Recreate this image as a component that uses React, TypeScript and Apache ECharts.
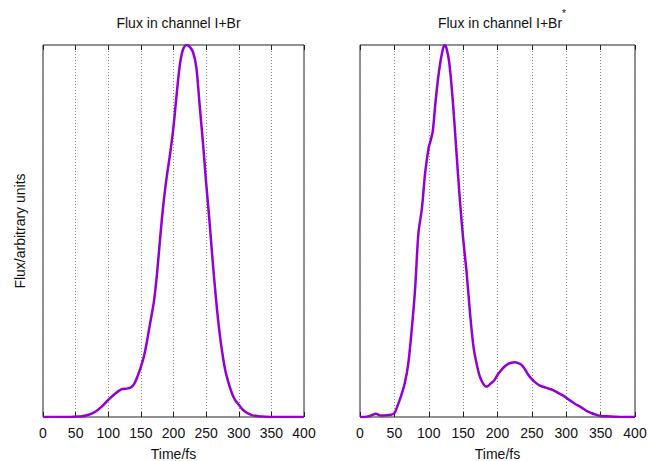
import React, { useEffect, useRef } from "react";
import * as echarts from "echarts";

// Left panel: flux in channel I+Br (time in fs, normalised flux)
const leftTimes = [0, 20, 40, 50, 60, 70, 80, 90, 100, 110, 120, 130, 135, 140, 145, 150, 155, 160, 165, 170, 175, 180, 185, 190, 195, 200, 205, 210, 215, 220, 225, 230, 235, 240, 245, 250, 255, 260, 265, 270, 275, 280, 285, 290, 295, 300, 305, 310, 315, 320, 330, 340, 350, 400];
const leftFlux = [0, 0, 0, 0.001, 0.002, 0.006, 0.014, 0.028, 0.046, 0.062, 0.074, 0.077, 0.08, 0.09, 0.11, 0.135, 0.165, 0.21, 0.26, 0.31, 0.39, 0.49, 0.58, 0.65, 0.71, 0.78, 0.87, 0.95, 0.99, 1.0, 0.995, 0.98, 0.94, 0.84, 0.74, 0.63, 0.53, 0.42, 0.32, 0.235, 0.17, 0.12, 0.088, 0.062, 0.044, 0.033, 0.022, 0.014, 0.009, 0.005, 0.002, 0.001, 0, 0];

// Right panel: flux in channel I+Br*
const rightTimes = [0, 5, 10, 15, 20, 23, 26, 30, 35, 40, 45, 50, 55, 60, 65, 70, 75, 80, 85, 90, 95, 100, 103, 106, 110, 115, 120, 123, 126, 130, 135, 140, 145, 150, 155, 160, 165, 170, 175, 180, 183, 186, 190, 195, 200, 205, 210, 215, 220, 225, 230, 235, 240, 245, 250, 255, 260, 265, 270, 275, 280, 285, 290, 295, 300, 305, 310, 315, 320, 325, 330, 335, 340, 345, 350, 360, 370, 380, 400];
const rightFlux = [0, 0, 0.001, 0.003, 0.007, 0.009, 0.007, 0.004, 0.004, 0.005, 0.006, 0.01, 0.032, 0.058, 0.09, 0.14, 0.23, 0.34, 0.495, 0.56, 0.66, 0.725, 0.745, 0.77, 0.85, 0.93, 0.985, 1.0, 0.99, 0.95, 0.85, 0.72, 0.59, 0.48, 0.39, 0.28, 0.19, 0.14, 0.105, 0.087, 0.082, 0.083, 0.09, 0.098, 0.113, 0.125, 0.135, 0.142, 0.146, 0.147, 0.145, 0.14, 0.128, 0.113, 0.102, 0.093, 0.086, 0.082, 0.079, 0.076, 0.073, 0.068, 0.063, 0.058, 0.052, 0.045, 0.039, 0.033, 0.028, 0.022, 0.016, 0.012, 0.008, 0.005, 0.003, 0.002, 0.001, 0, 0];

const xTicks = [0, 50, 100, 150, 200, 250, 300, 350, 400];

const FONT = "'Liberation Sans', Arial, sans-serif";
const TEXT = "#111";
const AXIS = "#222";
const LINE = "#9400D3";

function makeXAxes(gridIndex: number) {
  const base = {
    type: "value" as const,
    gridIndex,
    min: xTicks[0],
    max: xTicks[xTicks.length - 1],
    interval: 50,
    axisLine: { show: false },
    axisTick: { show: true, inside: true, length: 5, lineStyle: { color: AXIS, width: 1 } },
  };
  return [
    {
      ...base,
      position: "bottom",
      name: "Time/fs",
      nameLocation: "middle",
      nameGap: 30,
      nameTextStyle: { fontFamily: FONT, fontSize: 14, color: TEXT },
      axisLabel: { show: true, fontFamily: FONT, fontSize: 14, color: TEXT, margin: 9 },
      splitLine: { show: true, lineStyle: { color: "#888", type: [1, 2], width: 1 } },
    },
    {
      ...base,
      position: "top",
      axisLabel: { show: false },
      splitLine: { show: false },
    },
  ];
}

export default function App() {
  const ref = useRef<HTMLDivElement>(null);
  useEffect(() => {
    if (!ref.current) return;
    const chart = echarts.init(ref.current, undefined, { renderer: "svg" });
    const leftX = makeXAxes(0);
    const rightX = makeXAxes(1);
    chart.setOption({
      animation: false,
      backgroundColor: "#fff",
      title: [
        {
          text: "Flux in channel I+Br",
          left: 173.5,
          top: 11,
          textAlign: "center",
          textStyle: { fontFamily: FONT, fontSize: 14, fontWeight: "normal", color: TEXT },
        },
        {
          text: "Flux in channel I+Br",
          left: 495,
          top: 11,
          textAlign: "center",
          textStyle: { fontFamily: FONT, fontSize: 14, fontWeight: "normal", color: TEXT },
        },
      ],
      graphic: [
        {
          type: "text",
          left: 562,
          top: 8,
          style: { text: "*", fontFamily: FONT, fontSize: 10, fill: TEXT },
        },
      ],
      grid: [
        { left: 43, right: 344, top: 45, bottom: 44, show: true, borderColor: AXIS, borderWidth: 1, backgroundColor: "transparent", outerBoundsMode: "none", containLabel: false },
        { left: 360, right: 13, top: 45, bottom: 44, show: true, borderColor: AXIS, borderWidth: 1, backgroundColor: "transparent", outerBoundsMode: "none", containLabel: false },
      ],
      xAxis: [leftX[0], leftX[1], rightX[0], rightX[1]],
      yAxis: [
        {
          type: "value",
          gridIndex: 0,
          min: 0,
          max: 1,
          name: "Flux/arbitrary units",
          nameLocation: "middle",
          nameGap: 16,
          nameTextStyle: { fontFamily: FONT, fontSize: 14, color: TEXT },
          axisLine: { show: false },
          axisTick: { show: false },
          axisLabel: { show: false },
          splitLine: { show: false },
        },
        {
          type: "value",
          gridIndex: 1,
          min: 0,
          max: 1,
          axisLine: { show: false },
          axisTick: { show: false },
          axisLabel: { show: false },
          splitLine: { show: false },
        },
      ],
      series: [
        {
          type: "line",
          xAxisIndex: 0,
          yAxisIndex: 0,
          data: leftTimes.map((t, i) => [t, leftFlux[i]]),
          showSymbol: false,
          smooth: 0.3,
          lineStyle: { color: LINE, width: 2.5 },
        },
        {
          type: "line",
          xAxisIndex: 2,
          yAxisIndex: 1,
          data: rightTimes.map((t, i) => [t, rightFlux[i]]),
          showSymbol: false,
          smooth: 0.3,
          lineStyle: { color: LINE, width: 2.5 },
        },
      ],
    });
    return () => chart.dispose();
  }, []);
  return <div ref={ref} style={{ width: 648, height: 461, position: "absolute", left: 0, top: 0 }} />;
}
